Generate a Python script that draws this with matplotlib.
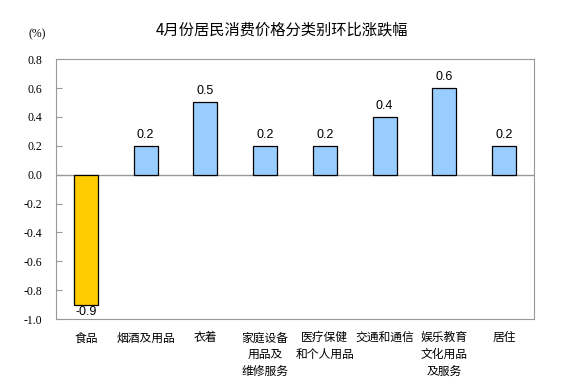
import numpy as np
import matplotlib
matplotlib.use("Agg")
import matplotlib.pyplot as plt

plt.rcParams["font.family"] = ["Liberation Sans", "Noto Sans CJK SC", "DejaVu Sans"]

categories = ["食品", "烟酒及用品", "衣着", "家庭设备\n用品及\n维修服务", "医疗保健\n和个人用品",
              "交通和通信", "娱乐教育\n文化用品\n及服务", "居住"]
values = [-0.9, 0.2, 0.5, 0.2, 0.2, 0.4, 0.6, 0.2]
yticks = [-1.0, -0.8, -0.6, -0.4, -0.2, 0.0, 0.2, 0.4, 0.6, 0.8]

cjk = ["Noto Sans CJK SC", "DejaVu Sans"]

fig = plt.figure(figsize=(5.75, 3.84), dpi=100)
ax = fig.add_axes([0.0974, 0.169, 0.8313, 0.677])

x = np.arange(len(categories))
colors = ["#FFCC00" if v < 0 else "#99CCFF" for v in values]
ax.bar(x, values, width=0.4, color=colors, edgecolor="black", linewidth=0.9, zorder=3)

for xi, v in zip(x, values):
    if v >= 0:
        ax.text(xi, v + 0.035, f"{v:.1f}", ha="center", va="bottom", fontsize=9)
    else:
        ax.text(xi, v - 0.01, f"{v:.1f}", ha="center", va="top", fontsize=9)

ax.axhline(0, color="#999999", linewidth=1, zorder=2)
ax.set_xlim(-0.5, len(categories) - 0.5)
ax.set_ylim(-1.0, 0.8)
ax.set_yticks(yticks)
ax.set_yticklabels([f"{t:.1f}" for t in yticks], fontsize=8.5, family="Liberation Serif")
ax.tick_params(axis="y", direction="in", length=4, color="#999999", pad=10)
ax.set_xticks([])
for s in ax.spines.values():
    s.set_color("#999999")

for xi, c in zip(x, categories):
    ax.text(xi, -1.085, c, ha="center", va="top", fontsize=8.5, linespacing=1.35, family=cjk)

fig.text(0.49, 0.922, "4月份居民消费价格分类别环比涨跌幅", ha="center", va="center",
         fontsize=11, family=cjk)
fig.text(0.064, 0.911, "(%)", ha="center", va="center", fontsize=8.5, family="Liberation Serif")

fig.savefig("out.png", dpi=100)
